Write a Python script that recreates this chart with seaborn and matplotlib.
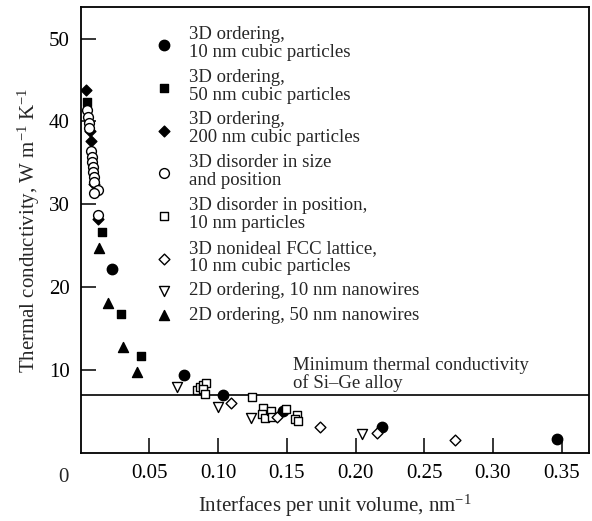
import numpy as np
import pandas as pd
import matplotlib
matplotlib.use('Agg')
import matplotlib.pyplot as plt
import seaborn as sns

# ---------------- data ----------------
circ10_x = [0.0229, 0.0753, 0.1033, 0.1475, 0.2190, 0.3465]
circ10_y = [22.2, 9.36, 6.94, 5.05, 3.12, 1.6]

sq50_x = [0.0043, 0.0152, 0.0293, 0.0438]
sq50_y = [42.4, 26.7, 16.7, 11.65]

dia200_x = [0.0038, 0.0067, 0.0072, 0.0096, 0.0128]
dia200_y = [43.8, 38.9, 37.7, 32.5, 28.2]

ocirc_x = [0.0047, 0.0055, 0.0060, 0.0063, 0.0072, 0.0078, 0.0083, 0.0087,
           0.0090, 0.0093, 0.0098, 0.0128, 0.0096, 0.0128]
ocirc_y = [41.4, 40.6, 39.8, 39.2, 36.4, 35.7, 35.1, 34.5,
           33.9, 33.3, 32.7, 31.7, 31.3, 28.7]

osq_x = [0.0844, 0.0868, 0.0892, 0.0912, 0.0888, 0.0904, 0.1250, 0.1329,
         0.1317, 0.1341, 0.1383, 0.1390, 0.1494, 0.1572, 0.1560, 0.1584]
osq_y = [7.55, 7.95, 8.15, 8.36, 7.63, 7.07, 6.74, 5.34,
         4.65, 4.13, 5.05, 4.25, 5.21, 4.53, 4.1, 3.8]

odia_x = [0.1094, 0.1426, 0.1740, 0.2155, 0.2725]
odia_y = [5.94, 4.25, 3.12, 2.3, 1.5]

otri_x = [0.0698, 0.1001, 0.1237, 0.2045]
otri_y = [7.95, 5.53, 4.13, 2.2]

ftri_x = [0.0135, 0.0200, 0.0310, 0.0407]
ftri_y = [24.7, 18.1, 12.7, 9.76]

labels = [
    "3D ordering,\n10 nm cubic particles",
    "3D ordering,\n50 nm cubic particles",
    "3D ordering,\n200 nm cubic particles",
    "3D disorder in size\nand position",
    "3D disorder in position,\n10 nm particles",
    "3D nonideal FCC lattice,\n10 nm cubic particles",
    "2D ordering, 10 nm nanowires",
    "2D ordering, 50 nm nanowires",
]

xticks = [0.05, 0.10, 0.15, 0.20, 0.25, 0.30, 0.35]
xticklabels = ["0.05", "0.10", "0.15", "0.20", "0.25", "0.30", "0.35"]
yticks = [10, 20, 30, 40, 50]
min_k = 6.95

# ---------------- style ----------------
sns.set_theme(style='ticks')
plt.rcParams['font.family'] = ['Liberation Serif', 'DejaVu Serif']
plt.rcParams['mathtext.fontset'] = 'custom'
plt.rcParams['mathtext.rm'] = 'Liberation Serif'
plt.rcParams['mathtext.it'] = 'Liberation Serif:italic'

W, H = 592, 521
fig = plt.figure(figsize=(W / 100, H / 100), dpi=100)
L, R, B, T = 80.8, 589.0, 452.5, 7.3
ax = fig.add_axes([L / W, (H - B) / H, (R - L) / W, (B - T) / H])

series = [
    (circ10_x, circ10_y, 'o', 'black', 56),
    (sq50_x, sq50_y, 's', 'black', 40),
    (dia200_x, dia200_y, 'D', 'black', 30),
    (ocirc_x, ocirc_y, 'o', 'white', 50),
    (osq_x, osq_y, 's', 'white', 40),
    (odia_x, odia_y, 'D', 'white', 30),
    (otri_x, otri_y, 'v', 'white', 52),
    (ftri_x, ftri_y, '^', 'black', 52),
]

ax.axhline(min_k, color='black', lw=1.2, zorder=1)

handles = []
for (xs, ys, m, fc, s), lab in zip(series, labels):
    df = pd.DataFrame({'x': xs, 'y': ys})
    sns.scatterplot(data=df, x='x', y='y', marker=m, s=s, color=fc,
                    edgecolor='black', linewidth=1.0, ax=ax, zorder=3,
                    legend=False)
    handles.append(ax.collections[-1])

ax.set_xlim(0, 0.37)
ax.set_ylim(0, 53.8)
ax.set_xticks(xticks)
ax.set_xticklabels(xticklabels)
ax.set_yticks(yticks)
ax.tick_params(direction='in', length=11, width=1.1, pad=8, labelsize=15,
               colors='black')
for sp in ax.spines.values():
    sp.set_visible(True)
    sp.set_linewidth(1.3)
    sp.set_color('black')

ax.set_xlabel("Interfaces per unit volume, nm$^{-1}$", fontsize=15, labelpad=7)
ax.set_ylabel("Thermal conductivity, W m$^{-1}$ K$^{-1}$", fontsize=15, labelpad=5)

ax.annotate("0", xy=(0, 0), xycoords='data', xytext=(-17, -25),
            textcoords='offset pixels', ha='center', va='center', fontsize=15)

ax.text(0.1547, 7.85, "Minimum thermal conductivity\nof Si–Ge alloy",
        fontsize=13.5, ha='left', va='baseline', linespacing=1.0)

leg = ax.legend(handles, labels, loc='upper left',
                bbox_to_anchor=(0.145, 0.958), frameon=False, fontsize=13.5,
                handlelength=1.0, handletextpad=0.85, labelspacing=0.41,
                borderpad=0, borderaxespad=0, scatterpoints=1)
for t in leg.get_texts():
    t.set_linespacing(1.08)

fig.savefig('out.png', dpi=100)
